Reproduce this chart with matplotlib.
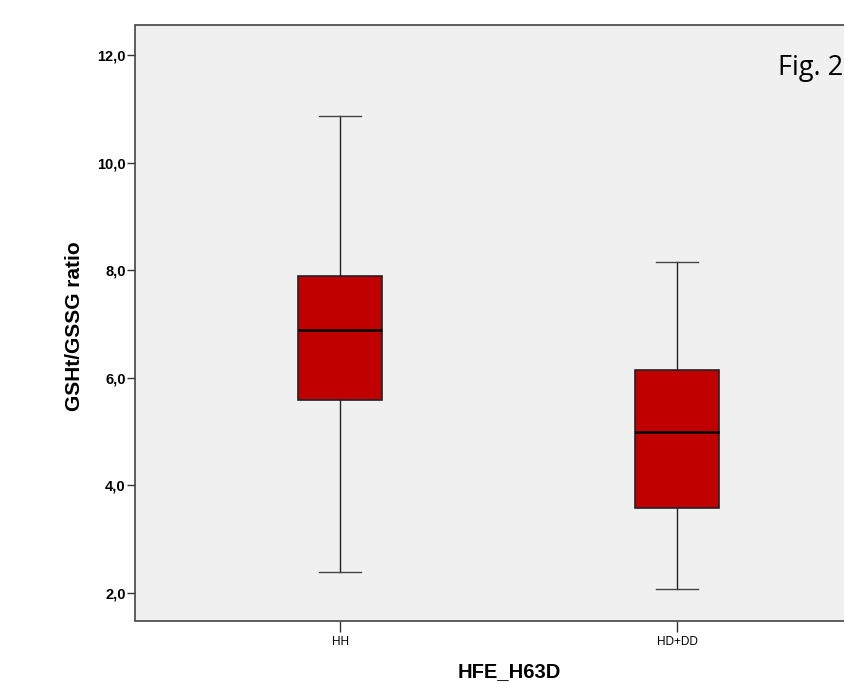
import matplotlib
matplotlib.use("Agg")
import matplotlib.pyplot as plt

categories = ["HH", "HD+DD"]
whislo = [2.39, 2.07]
q1 = [5.59, 3.58]
med = [6.89, 4.99]
q3 = [7.89, 6.15]
whishi = [10.87, 8.15]
yticks = [2.0, 4.0, 6.0, 8.0, 10.0, 12.0]
ytick_labels = ["2,0", "4,0", "6,0", "8,0", "10,0", "12,0"]

fig = plt.figure(figsize=(8.45, 6.83), dpi=100)
W, H = 845, 683
left, right, top, bottom = 135.5, 882, 25, 621
ax = fig.add_axes([left / W, 1 - bottom / H, (right - left) / W, (bottom - top) / H])
ax.set_facecolor("#F0F0F0")

stats = []
for i, c in enumerate(categories):
    stats.append(dict(label=c, whislo=whislo[i], q1=q1[i], med=med[i], q3=q3[i], whishi=whishi[i], fliers=[]))

ax.bxp(stats, positions=[1, 2], widths=0.25, patch_artist=True, showfliers=False,
       boxprops=dict(facecolor="#C00000", edgecolor="#222222", linewidth=1.2),
       medianprops=dict(color="black", linewidth=1.8),
       whiskerprops=dict(color="#222222", linewidth=1.0),
       capprops=dict(color="#444444", linewidth=1.0),
       capwidths=0.125)

ax.set_xlim(0.392, 2.608)
ax.set_ylim(1.48, 12.56)
ax.set_yticks(yticks)
ax.set_yticklabels(ytick_labels, fontfamily="Liberation Sans", fontweight="bold", fontsize=10.5)
ax.set_xticks([1, 2])
ax.set_xticklabels(categories, fontfamily="Liberation Sans", fontsize=8.5)
ax.tick_params(axis="y", direction="out", length=6, width=1, color="#333333", pad=1)
ax.tick_params(axis="x", direction="out", length=8, width=1, color="#333333", pad=3)
for s in ax.spines.values():
    s.set_color("#444444")
    s.set_linewidth(1.2)

ax.set_ylabel("GSHt/GSSG ratio", fontfamily="Liberation Sans", fontweight="bold", fontsize=15)
ax.yaxis.set_label_coords((75 - left) / (right - left), (bottom - 326) / (bottom - top))
ax.set_xlabel("HFE_H63D", fontfamily="Liberation Sans", fontweight="bold", fontsize=14.5)
ax.xaxis.set_label_coords((509 - left) / (right - left), -(672 - bottom) / (bottom - top))
ax.xaxis.label.set_va("center")
ax.yaxis.label.set_va("center")

fig.text(843 / W, 1 - 68 / H, "Fig. 2", ha="right", va="center", fontfamily="Open Sans", fontsize=19.5)

fig.savefig("out.png", dpi=100)
